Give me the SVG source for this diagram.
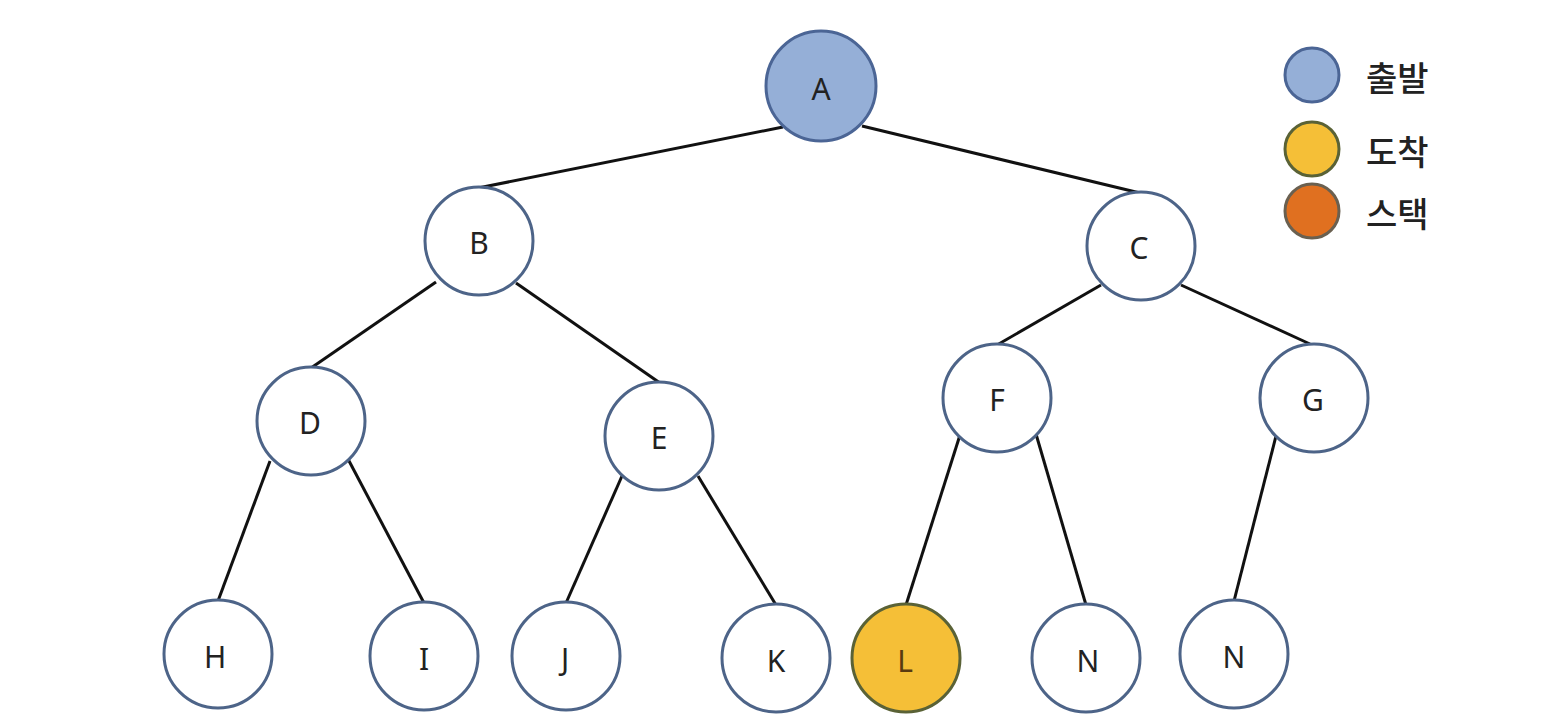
<svg xmlns="http://www.w3.org/2000/svg" width="1568" height="726" viewBox="0 0 1568 726">
<style>
.n{fill:#ffffff;stroke:#4d6488;stroke-width:3}
.t{font-family:"Noto Sans","Noto Sans CJK KR",sans-serif;font-size:30px;fill:#222;text-anchor:middle;dominant-baseline:central}
.lg{font-family:"Noto Sans CJK KR",sans-serif;font-size:34px;font-weight:500;fill:#222;dominant-baseline:central}
#edges line{stroke:#111;stroke-width:3}
</style>
<rect width="1568" height="726" fill="#ffffff"/>
<g id="edges">
<line x1="783" y1="127" x2="478" y2="188"/>
<line x1="862" y1="126" x2="1140" y2="193"/>
<line x1="436" y1="282" x2="311" y2="368"/>
<line x1="516" y1="283" x2="660" y2="383"/>
<line x1="1101" y1="285" x2="997" y2="345"/>
<line x1="1181" y1="285" x2="1310" y2="344"/>
<line x1="270" y1="461" x2="218" y2="601"/>
<line x1="348" y1="459" x2="424" y2="603"/>
<line x1="622" y1="476" x2="566" y2="603"/>
<line x1="698" y1="476" x2="776" y2="605"/>
<line x1="960" y1="435" x2="906" y2="605"/>
<line x1="1036" y1="434" x2="1086" y2="605"/>
<line x1="1276" y1="436" x2="1234" y2="601"/>
</g>
<g id="nA"><circle cx="821" cy="86" r="55" fill="#95afd7" stroke="#4b6595" stroke-width="3"/><text class="t" x="821" y="88">A</text></g>
<g id="nB"><circle class="n" cx="479" cy="241" r="54"/><text class="t" x="479" y="242">B</text></g>
<g id="nC"><circle class="n" cx="1141" cy="246" r="54"/><text class="t" x="1139" y="247">C</text></g>
<g id="nD"><circle class="n" cx="311" cy="421" r="54"/><text class="t" x="310" y="422">D</text></g>
<g id="nE"><circle class="n" cx="659" cy="436" r="54"/><text class="t" x="659" y="437">E</text></g>
<g id="nF"><circle class="n" cx="997" cy="398" r="54"/><text class="t" x="997" y="399">F</text></g>
<g id="nG"><circle class="n" cx="1314" cy="398" r="54"/><text class="t" x="1313" y="399">G</text></g>
<g id="nH"><circle class="n" cx="218" cy="654" r="54"/><text class="t" x="215" y="656">H</text></g>
<g id="nI"><circle class="n" cx="424" cy="656" r="54"/><text class="t" x="424" y="658">I</text></g>
<g id="nJ"><circle class="n" cx="566" cy="656" r="54"/><text class="t" x="565" y="658">J</text></g>
<g id="nK"><circle class="n" cx="776" cy="658" r="54"/><text class="t" x="776" y="660">K</text></g>
<g id="nL"><circle cx="906" cy="658" r="54" fill="#f5bf37" stroke="#5a6236" stroke-width="3"/><text class="t" x="905" y="660" style="fill:#5a3a10">L</text></g>
<g id="nN1"><circle class="n" cx="1086" cy="658" r="54"/><text class="t" x="1088" y="660">N</text></g>
<g id="nN2"><circle class="n" cx="1234" cy="654" r="54"/><text class="t" x="1234" y="656">N</text></g>
<g id="legend">
<circle cx="1312" cy="75" r="27" fill="#95afd7" stroke="#4b6595" stroke-width="3"/>
<text class="lg" x="1366" y="76">출발</text>
<circle cx="1312" cy="149" r="27" fill="#f5bf37" stroke="#5a6236" stroke-width="3"/>
<text class="lg" x="1366" y="150">도착</text>
<circle cx="1312" cy="211" r="27" fill="#e07020" stroke="#6a6050" stroke-width="3"/>
<text class="lg" x="1366" y="212">스택</text>
</g>
</svg>
